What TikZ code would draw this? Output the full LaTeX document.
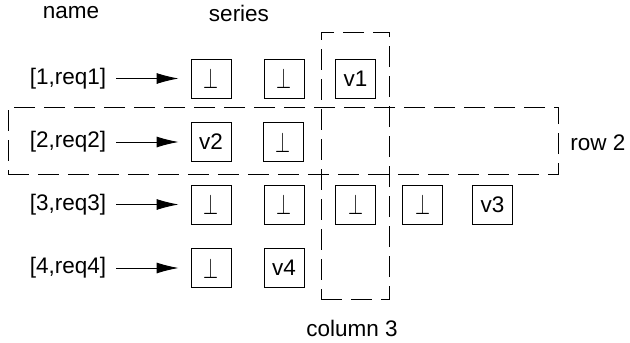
\documentclass[tikz,border=0pt]{standalone}
\usepackage{fontspec}
\usepackage{graphicx}
\setmainfont{Liberation Sans}
\usetikzlibrary{arrows.meta}
\newcommand{\undefsym}{\resizebox{15pt}{20pt}{$\perp$}}
\begin{document}
\begin{tikzpicture}[x=1pt,y=-1pt,
  txt/.style={font=\fontsize{22.5}{27}\selectfont, inner sep=0pt},
  cell/.style={draw, line width=0.8pt, minimum width=40pt, minimum height=39pt, inner sep=0pt, font=\fontsize{22.5}{27}\selectfont},
  arr/.style={line width=0.9pt, -{Latex[length=22pt,width=11pt]}, shorten <=10pt, shorten >=12pt},
  dbox/.style={draw, line width=0.8pt, dash pattern=on 21pt off 9pt, inner sep=0pt}]
\useasboundingbox (0,0) rectangle (630,343);
% headers
\node[txt] (hname) at (71,13) {name};
\node[txt] (hseries) at (239,13) {series};
% row labels
\node[txt] (l1) at (68,78.5) {[1,req1]};
\node[txt] (l2) at (68,142) {[2,req2]};
\node[txt] (l3) at (68,204.5) {[3,req3]};
\node[txt] (l4) at (68,268) {[4,req4]};
% cells
\node[cell] (c11) at (211,78.5) {\undefsym};
\node[cell] (c12) at (284,78.5) {\undefsym};
\node[cell] (c13) at (355.5,78.5) {v1};
\node[cell] (c21) at (211,142) {v2};
\node[cell] (c22) at (283,142) {\undefsym};
\node[cell] (c31) at (211,204.5) {\undefsym};
\node[cell] (c32) at (284,204.5) {\undefsym};
\node[cell] (c33) at (355.5,204.5) {\undefsym};
\node[cell] (c34) at (422.5,204.5) {\undefsym};
\node[cell] (c35) at (492.5,204.5) {v3};
\node[cell] (c41) at (211,268) {\undefsym};
\node[cell] (c42) at (284,268) {v4};
% arrows
\draw[arr] (l1.east) -- (c11.west);
\draw[arr] (l2.east) -- (c21.west);
\draw[arr] (l3.east) -- (c31.west);
\draw[arr] (l4.east) -- (c41.west);
% dashed groups
\node[dbox, minimum width=550pt, minimum height=67pt] (row2) at (283,140.5) {};
\node[dbox, minimum width=68pt, minimum height=267pt] (col3) at (355,165.5) {};
\node[txt] (lrow2) at (598,143) {row 2};
\node[txt] (lcol3) at (352,328) {column 3};
\end{tikzpicture}
\end{document}
